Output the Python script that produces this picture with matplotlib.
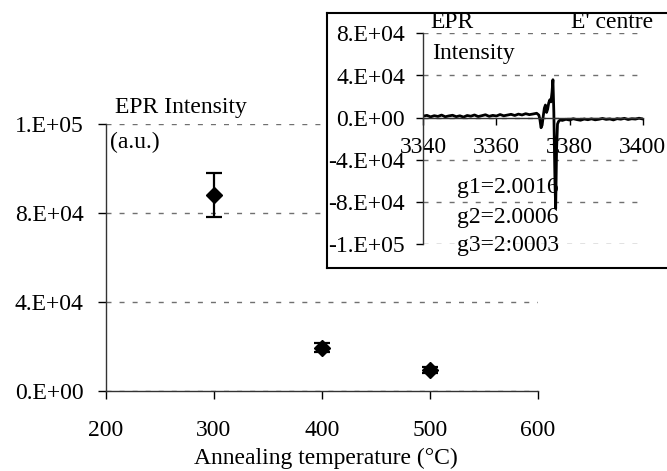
import matplotlib
matplotlib.use("Agg")
import matplotlib.pyplot as plt

plt.rcParams['font.family'] = ['Liberation Serif', 'DejaVu Serif']
FS = 17

# ---- main data ----
temps = [300, 400, 500]
intensity = [88000, 19500, 9500]
intensity_err = [10000, 2000, 1200]

x_ticks = [200, 300, 400, 500, 600]
y_ticks = [0, 40000, 80000, 120000]
y_tick_labels = ['0.E+00', '4.E+04', '8.E+04', '1.E+05']

# ---- inset spectrum ----
field = [3340, 3341, 3342, 3343, 3344, 3345, 3346, 3347, 3348, 3349,
         3350, 3351, 3352, 3353, 3354, 3355, 3356, 3357, 3358, 3359,
         3360, 3361, 3362, 3363, 3364, 3365, 3366, 3367, 3368, 3369,
         3370, 3371, 3371.6, 3371.9, 3372.2, 3372.5, 3372.8, 3373.1, 3373.4, 3373.7,
         3374.0, 3374.3, 3374.6, 3374.9, 3375.2, 3375.45, 3375.7, 3376.0, 3376.2, 3376.45,
         3376.7, 3377.0, 3377.5, 3378,
         3379, 3380, 3381, 3382, 3383, 3384, 3385, 3386, 3387, 3388,
         3389, 3390, 3391, 3392, 3393, 3394, 3395, 3396, 3397, 3398,
         3399, 3400]
signal = [1500, 2200, 800, 1900, 1200, 2500, 900, 1700, 2300, 1000,
          1800, 600, 2100, 1400, 2600, 1100, 1900, 2800, 1300, 2200,
          1600, 3000, 1800, 2500, 3200, 2100, 3400, 2600, 3800, 2900,
          3500, 4200, 2500, -2000, -9500, -7000, 1500, 9000, 12000, 5000,
          8000, 14000, 17000, 15000, 24000, 36000, 5000, -60000, -86000, -30000,
          -6000, -3500, -2000, -2600,
          -1500, -2200, -1000, -1800, -2400, -1300, -1900, -1100, -2000, -1500,
          -700, -1600, -1200, -2100, -900, -1400, -600, -1700, -1000, -1300,
          -500, -1200]
inset_x_ticks = [3340, 3360, 3380, 3400]
inset_y_ticks = [80000, 40000, 0, -40000, -80000, -120000]
inset_y_labels = ['8.E+04', '4.E+04', '0.E+00', '-4.E+04', '-8.E+04', '-1.E+05']
g_values = ['g1=2.0016', 'g2=2.0006', 'g3=2:0003']

W, H = 667, 471
fig = plt.figure(figsize=(W / 100, H / 100), dpi=100)

def fx(px):
    return px / W

def fy(py):
    return 1 - py / H

dash = (0, (3.6, 5.8))
gridcol = '#707070'

# ---- main axes ----
ax = fig.add_axes([fx(105.7), fy(391), 432 / W, 267 / H])
ax.errorbar(temps, intensity, yerr=intensity_err, fmt='D', color='black',
            ms=8.5, capsize=6, elinewidth=1.6, capthick=1.6)
ax.set_xlim(200, 600)
ax.set_ylim(0, 120000)
ax.set_xticks(x_ticks)
ax.set_yticks(y_ticks)
ax.set_yticklabels(y_tick_labels)
ax.tick_params(axis='both', direction='out', length=6, width=1, labelsize=FS,
               colors='black')
ax.tick_params(axis='y', pad=10)
ax.tick_params(axis='x', pad=15)
for s in ['top', 'right']:
    ax.spines[s].set_visible(False)
for s in ['left', 'bottom']:
    ax.spines[s].set_color('#333333')
    ax.spines[s].set_linewidth(1)
ax.yaxis.grid(True, linestyle=dash, color=gridcol, linewidth=1)
ax.set_axisbelow(True)
ax.set_xlabel('Annealing temperature (°C)', fontsize=FS)
ax.xaxis.label.set_va('center')
ax.xaxis.set_label_coords((326 - 105.7) / 432, (391 - 458) / 267)

fig.text(fx(115), fy(108), 'EPR Intensity', fontsize=FS, va='center', ha='left')
fig.text(fx(110), fy(142), '(a.u.)', fontsize=FS, va='center', ha='left')

# ---- inset box ----
box = fig.add_axes([fx(327), fy(268), 0.6, (268 - 13) / H])
box.set_zorder(3)
box.set_facecolor('white')
box.set_xticks([])
box.set_yticks([])
for s in box.spines.values():
    s.set_linewidth(1.5)
    s.set_color('black')

# ---- inset axes ----
ax2 = fig.add_axes([fx(423.3), fy(244.3), 219.4 / W, 211 / H])
ax2.set_zorder(4)
ax2.patch.set_alpha(0)
ax2.plot(field, signal, color='black', lw=2)
ax2.set_xlim(3340, 3400)
ax2.set_ylim(-120000, 80000)
ax2.set_xticks(inset_x_ticks)
ax2.set_yticks(inset_y_ticks)
ax2.set_yticklabels(inset_y_labels)
ax2.spines['top'].set_visible(False)
ax2.spines['right'].set_visible(False)
ax2.spines['bottom'].set_position(('data', 0))
for s in ['left', 'bottom']:
    ax2.spines[s].set_color('#333333')
    ax2.spines[s].set_linewidth(1)
ax2.tick_params(axis='both', direction='out', length=5, width=1, labelsize=FS,
                colors='black')
ax2.tick_params(axis='y', pad=8)
ax2.tick_params(axis='x', pad=9)
ax2.yaxis.grid(True, linestyle=dash, color=gridcol, linewidth=1)
ax2.set_axisbelow(True)

fig.text(fx(430), fy(23), 'EPR', fontsize=FS, va='center', ha='left', zorder=5)
fig.text(fx(432), fy(53), 'Intensity', fontsize=FS, va='center', ha='left', zorder=5)
fig.text(fx(653), fy(23), "E' centre", fontsize=FS, va='center', ha='right', zorder=5)
for i, g in enumerate(g_values):
    fig.text(fx(456.7), fy([188, 218, 246][i]), g, fontsize=FS, va='center',
             ha='left', zorder=5)

fig.savefig('out.png', dpi=100)
